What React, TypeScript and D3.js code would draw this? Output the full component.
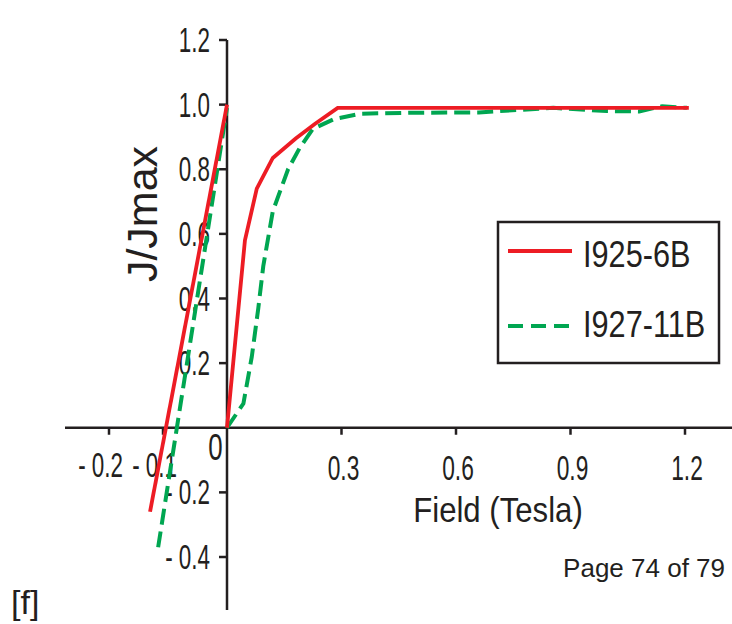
import React from "react";
import * as d3 from "d3";

// ---- data ----
const redNegField = [-0.124, 0];
const redNegJ = [-0.26, 1.0];
const redPosField = [0, 0.047, 0.078, 0.12, 0.18, 0.23, 0.29, 1.21];
const redPosJ = [0.0, 0.58, 0.74, 0.835, 0.895, 0.94, 0.99, 0.99];

const greenNegField = [-0.109, 0];
const greenNegJ = [-0.37, 0.99];
const greenPosField = [0, 0.043, 0.065, 0.082, 0.095, 0.12, 0.16, 0.19, 0.225, 0.28, 0.35, 0.5, 0.66, 0.855, 0.995, 1.08, 1.14, 1.205];
const greenPosJ = [0.0, 0.075, 0.22, 0.37, 0.5, 0.67, 0.8, 0.865, 0.925, 0.955, 0.972, 0.975, 0.976, 0.99, 0.98, 0.979, 0.995, 0.99];

const xTicksNeg = [-0.2, -0.1];
const xTickNegLabels = ["- 0.2", "- 0.1"];
const xTicksPos = [0.3, 0.6, 0.9, 1.2];
const xTickPosLabels = ["0.3", "0.6", "0.9", "1.2"];
const yTicks = [1.2, 1.0, 0.8, 0.6, 0.4, 0.2, -0.2, -0.4];
const yTickLabels = ["1.2", "1.0", "0.8", "0.6", "0.4", "0.2", "- 0.2", "- 0.4"];
const seriesNames = ["I925-6B", "I927-11B"];

const RED = "#ed1c24";
const GREEN = "#00a651";
const INK = "#231f20";
const FONT = "'Liberation Sans', Arial, sans-serif";

const x = d3.scaleLinear().domain([-0.2, -0.1, 0, 1.2]).range([109, 163, 227, 685]);
const y = d3.scaleLinear().domain([-0.4, 1.2]).range([557, 40]);

const line = d3
  .line<[number, number]>()
  .x((d) => x(d[0]))
  .y((d) => y(d[1]));

const zip = (a: number[], b: number[]) => a.map((v, i) => [v, b[i]] as [number, number]);

function Txt(props: {
  x: number;
  y: number;
  sx?: number;
  size: number;
  anchor?: string;
  rotate?: number;
  children: React.ReactNode;
}) {
  const { sx = 1, size, anchor = "start", rotate = 0 } = props;
  return (
    <text
      transform={`translate(${props.x},${props.y}) rotate(${rotate}) scale(${sx},1)`}
      textAnchor={anchor}
      fontFamily={FONT}
      fontSize={size}
      fill={INK}
    >
      {props.children}
    </text>
  );
}

export default function App() {
  const y0 = y(0);
  const x0 = x(0);
  return (
    <svg width={732} height={624} style={{ position: "absolute", left: 0, top: 0 }}>
      <rect width={732} height={624} fill="#fff" />
      {/* axes */}
      <line x1={65} x2={732} y1={y0} y2={y0} stroke={INK} strokeWidth={2.5} />
      <line x1={x0} x2={x0} y1={y(1.2)} y2={610} stroke={INK} strokeWidth={2.5} />
      {/* x ticks */}
      {xTicksNeg.map((t, i) => (
        <g key={"xn" + i}>
          <line x1={x(t)} x2={x(t)} y1={y0} y2={y0 + 7} stroke={INK} strokeWidth={2.5} />
          <Txt x={x(t) + 14} y={477} size={35} sx={0.64} anchor="end">
            {xTickNegLabels[i]}
          </Txt>
        </g>
      ))}
      {xTicksPos.map((t, i) => (
        <g key={"xp" + i}>
          <line x1={x(t)} x2={x(t)} y1={y0} y2={y0 + 7} stroke={INK} strokeWidth={2.5} />
          <Txt x={x(t) + 2} y={480} size={35} sx={0.65} anchor="middle">
            {xTickPosLabels[i]}
          </Txt>
        </g>
      ))}
      <Txt x={x0 - 11.5} y={460} size={37} sx={0.7} anchor="middle">
        0
      </Txt>
      {/* y ticks */}
      {yTicks.map((t, i) => (
        <g key={"y" + i}>
          <line x1={x0 - 8} x2={x0} y1={y(t)} y2={y(t)} stroke={INK} strokeWidth={2.5} />
          <Txt x={x0 - 17} y={y(t) + 12} size={35} sx={0.64} anchor="end">
            {yTickLabels[i]}
          </Txt>
        </g>
      ))}
      {/* axis titles */}
      <Txt x={498} y={522} size={35} sx={0.89} anchor="middle">
        Field (Tesla)
      </Txt>
      <Txt x={157} y={214} size={43} rotate={-90} anchor="middle">
        J/Jmax
      </Txt>
      {/* series */}
      <path d={line(zip(greenNegField, greenNegJ))!} fill="none" stroke={GREEN} strokeWidth={4} strokeDasharray="16 7" />
      <path d={line(zip(greenPosField, greenPosJ))!} fill="none" stroke={GREEN} strokeWidth={4} strokeDasharray="16 7" />
      <path d={line(zip(redNegField, redNegJ))!} fill="none" stroke={RED} strokeWidth={3.8} />
      <path d={line(zip(redPosField, redPosJ))!} fill="none" stroke={RED} strokeWidth={3.8} />
      {/* legend */}
      <rect x={498} y={222} width={221} height={141} fill="#fff" stroke={INK} strokeWidth={2.5} />
      <line x1={508} x2={572} y1={251} y2={251} stroke={RED} strokeWidth={3.8} />
      <Txt x={583} y={267} size={37} sx={0.83}>
        {seriesNames[0]}
      </Txt>
      <line x1={508} x2={573} y1={326} y2={326} stroke={GREEN} strokeWidth={4} strokeDasharray="15 8" />
      <Txt x={583} y={337} size={37} sx={0.83}>
        {seriesNames[1]}
      </Txt>
      {/* extra page text */}
      <Txt x={725} y={577} size={26} anchor="end">
        Page 74 of 79
      </Txt>
      <Txt x={11} y={614} size={34}>
        [f]
      </Txt>
    </svg>
  );
}
